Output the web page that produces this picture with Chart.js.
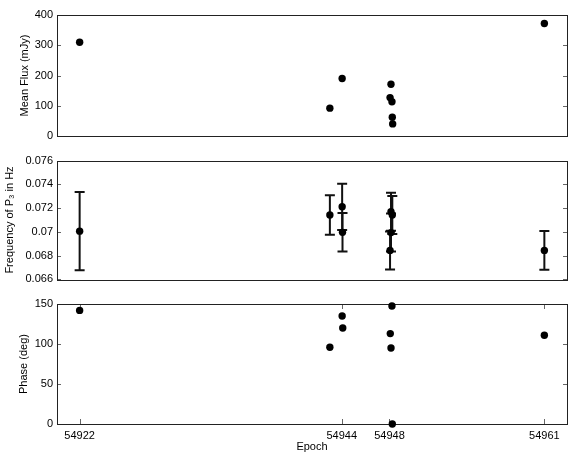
<!DOCTYPE html>
<html>
<head>
<meta charset="utf-8">
<title>Epoch</title>
<script src="https://cdn.jsdelivr.net/npm/chart.js@4.4.1/dist/chart.umd.min.js"></script>
<style>
  html, body { margin: 0; padding: 0; background: #fff; }
  canvas { display: block; }
</style>
</head>
<body>
<canvas id="fluxChart" width="572" height="150"></canvas>
<canvas id="freqChart" width="572" height="140"></canvas>
<canvas id="phaseChart" width="572" height="170"></canvas>
<script>
// 横轴刻度
const epochTicks = [54922, 54944, 54948, 54961];

// 平均流量 (mJy)
const fluxEpoch = [54922.0, 54943.0, 54944.03, 54948.13, 54948.05, 54948.21, 54948.24, 54948.27, 54961.0];
const fluxValue = [310, 92, 190, 171, 127, 113, 62, 40, 372];

// P3 频率 (Hz) 及误差
const freqEpoch = [54922.0, 54943.0, 54944.03, 54944.06, 54948.13, 54948.24, 54948.13, 54948.05, 54961.0];
const freqValue = [0.07006, 0.07142, 0.07211, 0.06996, 0.07169, 0.07142, 0.06994, 0.06844, 0.06844];
const freqError = [0.00330, 0.00167, 0.00195, 0.00162, 0.00160, 0.00160, 0.00160, 0.00160, 0.00163];

// 相位 (deg)
const phaseEpoch = [54922.0, 54943.0, 54944.03, 54944.08, 54948.21, 54948.07, 54948.13, 54948.24, 54961.0];
const phaseValue = [142, 96, 135, 120, 147.5, 113, 95, 0, 111];

Chart.defaults.font.family = "'Liberation Sans', Arial, Helvetica, sans-serif";
Chart.defaults.font.size = 11;
Chart.defaults.color = '#000';

const X_MIN = 54920.1;
const X_MAX = 54962.9;

// 边框和向内的刻度线
const frameBox = {
    id: 'frameBox',
    beforeDatasetsDraw(chart, args, opts) {
        const { ctx, chartArea: a, scales } = chart;
        ctx.save();
        ctx.strokeStyle = '#666';
        ctx.lineWidth = 1;
        ctx.beginPath();
        scales.y.ticks.forEach(t => {
            const py = Math.round(scales.y.getPixelForValue(t.value)) + 0.5;
            ctx.moveTo(a.left, py); ctx.lineTo(a.left + 4, py);
            ctx.moveTo(a.right, py); ctx.lineTo(a.right - 4, py);
        });
        if (opts.xTicks) {
            scales.x.ticks.forEach(t => {
                const px = Math.round(scales.x.getPixelForValue(t.value)) + 0.5;
                ctx.moveTo(px, a.bottom); ctx.lineTo(px, a.bottom - 5);
                ctx.moveTo(px, a.top); ctx.lineTo(px, a.top + 5);
            });
        }
        ctx.stroke();
        ctx.strokeStyle = '#222';
        ctx.strokeRect(Math.round(a.left) + 0.5, Math.round(a.top) + 0.5,
            Math.round(a.right - a.left), Math.round(a.bottom - a.top));
        ctx.restore();
    }
};

// 误差棒
const errorBars = {
    id: 'errorBars',
    beforeDatasetsDraw(chart) {
        const ds = chart.data.datasets[0];
        if (!ds.yErr) return;
        const { ctx, scales: { x, y } } = chart;
        ctx.save();
        ctx.strokeStyle = '#111';
        ctx.lineWidth = 2;
        ds.data.forEach((p, i) => {
            const px = x.getPixelForValue(p.x);
            const top = y.getPixelForValue(p.y + ds.yErr[i]);
            const bot = y.getPixelForValue(p.y - ds.yErr[i]);
            ctx.beginPath();
            ctx.moveTo(px, top); ctx.lineTo(px, bot);
            ctx.moveTo(px - 5, top); ctx.lineTo(px + 5, top);
            ctx.moveTo(px - 5, bot); ctx.lineTo(px + 5, bot);
            ctx.stroke();
        });
        ctx.restore();
    }
};

function yScale(min, max, step, title, titlePad) {
    return {
        type: 'linear',
        min, max,
        ticks: { stepSize: step, padding: 4, callback: v => String(+v.toFixed(4)) },
        grid: { display: false, drawTicks: false },
        border: { display: false },
        title: { display: true, text: title, padding: { top: titlePad, bottom: 0 } },
        afterFit(scale) { scale.width = 57; }
    };
}

function hiddenX() {
    return { type: 'linear', min: X_MIN, max: X_MAX, display: false };
}

function makeChart(id, epochs, values, opts) {
    const dataset = {
        data: epochs.map((e, i) => ({ x: e, y: values[i] })),
        pointRadius: 3.7,
        pointHoverRadius: 3.7,
        pointBackgroundColor: '#000',
        pointBorderWidth: 0,
        showLine: false,
        clip: false
    };
    if (opts.yErr) dataset.yErr = opts.yErr;
    return new Chart(document.getElementById(id), {
        type: 'scatter',
        data: { datasets: [dataset] },
        options: {
            responsive: false,
            animation: false,
            events: [],
            layout: { padding: opts.padding },
            plugins: {
                legend: { display: false },
                tooltip: { enabled: false },
                frameBox: { xTicks: !!opts.xTicks }
            },
            scales: { x: opts.x, y: opts.y }
        },
        plugins: [frameBox, errorBars]
    });
}

makeChart('fluxChart', fluxEpoch, fluxValue, {
    padding: { top: 15, bottom: 14, left: 0, right: 5 },
    x: hiddenX(),
    y: yScale(0, 400, 100, 'Mean Flux (mJy)', 18)
});

makeChart('freqChart', freqEpoch, freqValue, {
    padding: { top: 10, bottom: 10, left: 0, right: 5 },
    yErr: freqError,
    x: hiddenX(),
    y: yScale(0.066, 0.076, 0.002, 'Frequency of P\u2083 in Hz', 3)
});

makeChart('phaseChart', phaseEpoch, phaseValue, {
    padding: { top: 14, bottom: 0, left: 0, right: 5 },
    xTicks: true,
    x: {
        type: 'linear',
        min: X_MIN, max: X_MAX,
        afterBuildTicks(scale) { scale.ticks = epochTicks.map(v => ({ value: v })); },
        ticks: { padding: 5, autoSkip: false, maxRotation: 0, callback: v => String(v) },
        grid: { display: false, drawTicks: false },
        border: { display: false },
        title: { display: true, text: 'Epoch', padding: { top: 0, bottom: 6 } },
        afterFit(scale) { scale.height = 36; }
    },
    y: yScale(0, 150, 50, 'Phase (deg)', 17)
});
</script>
</body>
</html>
